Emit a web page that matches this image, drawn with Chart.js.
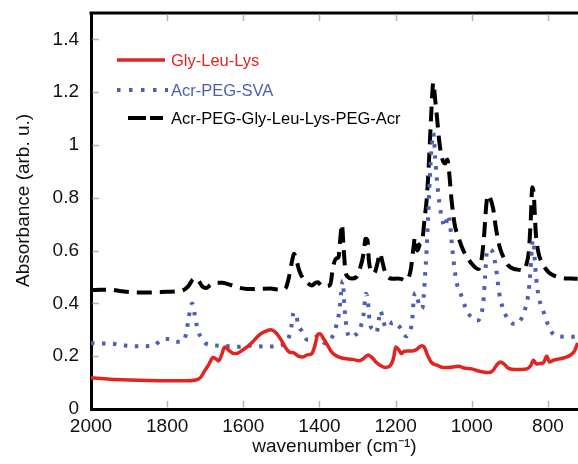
<!DOCTYPE html>
<html>
<head>
<meta charset="utf-8">
<script src="https://cdn.jsdelivr.net/npm/chart.js@4.4.1/dist/chart.umd.min.js"></script>
<style>
  html, body { margin: 0; padding: 0; background: #fff; }
  #wrap { width: 578px; height: 464px; }
</style>
</head>
<body>
<div id="wrap"><canvas id="c" width="578" height="464"></canvas></div>
<script>
// ---- axis ticks ----
const wavenumberTicks = [800, 1000, 1200, 1400, 1600, 1800, 2000];
const absorbanceTicks = [0, 0.2, 0.4, 0.6, 0.8, 1, 1.2, 1.4];

// ---- series labels ----
const seriesLabels = ['Gly-Leu-Lys', 'Acr-PEG-SVA', 'Acr-PEG-Gly-Leu-Lys-PEG-Acr'];

// ---- Gly-Leu-Lys ----
const glyWn  = [2000,1950,1900,1850,1800,1750,1725,1712,1700,1690,1680,1672,1665,1657,1649,1640,1628,1618,1605,1590,1575,1560,1545,1528,1515,1500,1490,1478,1468,1455,1445,1432,1420,1412,1404,1398,1390,1380,1370,1360,1345,1330,1310,1295,1285,1272,1262,1250,1240,1228,1215,1205,1200,1192,1185,1178,1168,1155,1145,1132,1125,1115,1105,1090,1075,1060,1045,1035,1020,1000,985,970,955,945,935,925,915,905,890,870,855,845,838,830,822,812,803,796,785,770,755,740,730,722];
const glyAbs = [0.118,0.113,0.110,0.108,0.107,0.107,0.110,0.120,0.148,0.170,0.195,0.190,0.182,0.205,0.235,0.225,0.212,0.210,0.220,0.235,0.255,0.278,0.292,0.300,0.290,0.260,0.235,0.215,0.213,0.200,0.197,0.205,0.210,0.240,0.283,0.285,0.268,0.245,0.220,0.205,0.195,0.190,0.187,0.183,0.190,0.205,0.195,0.175,0.165,0.157,0.163,0.195,0.235,0.225,0.210,0.218,0.220,0.220,0.225,0.240,0.235,0.200,0.175,0.165,0.157,0.157,0.160,0.162,0.155,0.152,0.145,0.140,0.138,0.145,0.165,0.178,0.170,0.155,0.150,0.150,0.152,0.165,0.185,0.170,0.172,0.175,0.200,0.178,0.185,0.190,0.195,0.205,0.220,0.250];

// ---- Acr-PEG-SVA ----
const svaWn  = [2000,1980,1950,1920,1893,1860,1835,1815,1795,1775,1762,1752,1745,1738,1734,1728,1720,1710,1700,1690,1665,1640,1610,1580,1550,1520,1495,1482,1474,1468,1462,1456,1446,1432,1418,1405,1392,1384,1372,1362,1355,1348,1343,1339,1334,1328,1320,1308,1298,1290,1284,1278,1273,1268,1260,1250,1244,1240,1234,1226,1218,1208,1200,1190,1180,1172,1164,1157,1152,1148,1143,1136,1130,1122,1117,1110,1105,1101,1096,1091,1085,1078,1070,1062,1057,1052,1046,1040,1030,1018,1008,995,986,978,970,965,960,953,944,936,928,918,907,895,886,875,862,852,846,841,838,834,828,820,812,800,787,770,750,722];
const svaAbs = [0.250,0.248,0.248,0.243,0.238,0.238,0.240,0.262,0.265,0.255,0.255,0.275,0.330,0.390,0.400,0.360,0.300,0.270,0.250,0.243,0.240,0.238,0.236,0.240,0.237,0.237,0.245,0.265,0.310,0.365,0.360,0.320,0.295,0.262,0.265,0.275,0.255,0.248,0.260,0.288,0.320,0.370,0.440,0.485,0.380,0.300,0.272,0.280,0.290,0.320,0.360,0.437,0.410,0.330,0.300,0.290,0.340,0.372,0.345,0.310,0.310,0.330,0.325,0.312,0.290,0.275,0.290,0.330,0.420,0.440,0.420,0.385,0.380,0.520,0.650,0.880,1.000,1.045,0.950,0.860,0.780,0.720,0.690,0.735,0.700,0.620,0.540,0.480,0.440,0.390,0.360,0.340,0.335,0.345,0.400,0.500,0.600,0.605,0.590,0.530,0.440,0.380,0.345,0.325,0.322,0.330,0.370,0.430,0.520,0.630,0.640,0.550,0.460,0.400,0.370,0.320,0.285,0.275,0.274,0.273];

// ---- Acr-PEG-Gly-Leu-Lys-PEG-Acr ----
const acrWn  = [2000,1975,1950,1920,1893,1860,1830,1800,1770,1752,1742,1733,1726,1718,1708,1698,1686,1672,1655,1638,1612,1590,1560,1530,1500,1488,1480,1472,1467,1460,1452,1444,1432,1420,1410,1404,1396,1385,1372,1364,1356,1350,1345,1341,1337,1332,1325,1315,1303,1292,1284,1279,1274,1270,1263,1256,1248,1241,1236,1228,1220,1208,1196,1186,1176,1168,1160,1154,1149,1143,1136,1130,1124,1118,1112,1106,1101,1096,1091,1085,1078,1070,1064,1059,1053,1045,1035,1022,1010,1000,990,983,975,968,962,958,952,944,936,926,915,905,891,875,865,856,850,845,841,837,832,826,818,808,796,780,760,740,722];
const acrAbs = [0.450,0.452,0.452,0.446,0.442,0.441,0.442,0.444,0.446,0.455,0.470,0.490,0.495,0.487,0.465,0.458,0.470,0.478,0.478,0.472,0.460,0.455,0.455,0.456,0.452,0.460,0.500,0.560,0.588,0.560,0.520,0.497,0.478,0.468,0.478,0.480,0.468,0.465,0.470,0.540,0.570,0.575,0.650,0.700,0.620,0.525,0.500,0.494,0.500,0.540,0.590,0.645,0.640,0.560,0.520,0.515,0.550,0.590,0.565,0.520,0.500,0.493,0.494,0.493,0.487,0.492,0.530,0.600,0.650,0.600,0.625,0.640,0.720,0.800,0.950,1.130,1.236,1.170,1.100,1.010,0.950,0.930,0.945,0.890,0.790,0.700,0.650,0.600,0.570,0.550,0.535,0.530,0.560,0.650,0.770,0.810,0.800,0.760,0.680,0.610,0.570,0.545,0.532,0.527,0.525,0.550,0.600,0.720,0.840,0.810,0.670,0.600,0.560,0.535,0.515,0.503,0.496,0.494,0.493];

const RED = '#e3231f', BLUE = '#4c5fb1', BLACK = '#000000';
const FONT = '"Liberation Sans", Arial, Helvetica, sans-serif';

function pts(xs, ys) { return xs.map((x, i) => ({ x: x, y: ys[i] })); }

const styles = [
  { color: RED,   width: 3.5, dash: [],         legendDash: [],         legendFrom: 117, legendTo: 165, y: 60 },
  { color: BLUE,  width: 4,   dash: [3.5, 7.5], legendDash: [3.5, 8.5], legendFrom: 117, legendTo: 168, y: 90 },
  { color: BLACK, width: 4,   dash: [15, 8],    legendDash: [18, 4],    legendFrom: 128, legendTo: 163, y: 118 }
];

const decor = {
  id: 'decor',
  afterDraw(chart) {
    const { ctx, chartArea, scales } = chart;
    const { left, right, top, bottom } = chartArea;
    ctx.save();
    // top frame line
    ctx.strokeStyle = '#000';
    ctx.lineWidth = 3;
    ctx.setLineDash([]);
    ctx.beginPath();
    ctx.moveTo(left - 1.5, top);
    ctx.lineTo(right + 2, top);
    ctx.stroke();
    // inward ticks
    ctx.strokeStyle = '#b4b4b4';
    ctx.lineWidth = 1.5;
    ctx.beginPath();
    absorbanceTicks.forEach(v => {
      if (v === 0) return;
      const py = Math.round(scales.y.getPixelForValue(v)) + 0.5;
      ctx.moveTo(left + 1.5, py); ctx.lineTo(left + 8, py);
    });
    wavenumberTicks.forEach(v => {
      if (v === 2000) return;
      const px = Math.round(scales.x.getPixelForValue(v)) + 0.5;
      ctx.moveTo(px, bottom - 1.5); ctx.lineTo(px, bottom - 8);
      ctx.moveTo(px, top + 1.5); ctx.lineTo(px, top + 8);
    });
    ctx.stroke();
    // legend
    ctx.font = '16.5px ' + FONT;
    ctx.textAlign = 'left';
    ctx.textBaseline = 'middle';
    chart.data.datasets.forEach((ds, i) => {
      const s = styles[i];
      ctx.strokeStyle = s.color;
      ctx.lineWidth = s.width;
      ctx.lineCap = 'butt';
      ctx.setLineDash(s.legendDash);
      ctx.beginPath();
      ctx.moveTo(s.legendFrom, s.y);
      ctx.lineTo(s.legendTo, s.y);
      ctx.stroke();
      ctx.setLineDash([]);
      ctx.fillStyle = s.color;
      ctx.fillText(ds.label, 171, s.y + 1.5);
    });
    ctx.restore();
  }
};

const datasets = [
  { label: seriesLabels[0], data: pts(glyWn, glyAbs) },
  { label: seriesLabels[1], data: pts(svaWn, svaAbs) },
  { label: seriesLabels[2], data: pts(acrWn, acrAbs) }
].map((d, i) => Object.assign(d, {
  borderColor: styles[i].color,
  borderWidth: styles[i].width,
  borderDash: styles[i].dash,
  borderCapStyle: 'butt',
  pointRadius: 0,
  fill: false,
  cubicInterpolationMode: 'monotone'
}));

new Chart(document.getElementById('c'), {
  type: 'line',
  data: { datasets: datasets },
  options: {
    responsive: false,
    animation: false,
    layout: { padding: { top: 13, right: 0, bottom: 0, left: 0 } },
    plugins: { legend: { display: false }, tooltip: { enabled: false } },
    scales: {
      x: {
        type: 'linear',
        reverse: true,
        min: 721,
        max: 2000,
        afterBuildTicks: s => { s.ticks = wavenumberTicks.map(v => ({ value: v })); },
        afterFit: s => { s.height = 55; s.paddingLeft = 0; s.paddingRight = 0; },
        grid: { display: false, drawTicks: false },
        border: { display: true, color: '#000', width: 3 },
        ticks: { color: '#111', font: { family: FONT, size: 19 }, padding: 6, maxRotation: 0, autoSkip: false,
                 callback: v => String(v) },
        title: { display: true, text: 'wavenumber (cm⁻¹)', color: '#111', font: { family: FONT, size: 19 }, padding: { top: 0, bottom: 5.5 } }
      },
      y: {
        type: 'linear',
        min: 0,
        max: 1.5,
        afterBuildTicks: s => { s.ticks = absorbanceTicks.map(v => ({ value: v })); },
        afterFit: s => { s.width = 91; s.paddingTop = 0; s.paddingBottom = 0; },
        grid: { display: false, drawTicks: false },
        border: { display: true, color: '#000', width: 3 },
        ticks: { color: '#111', font: { family: FONT, size: 19 }, padding: 12, autoSkip: false,
                 callback: v => String(Math.round(v * 10) / 10) },
        title: { display: true, text: '    Absorbance (arb. u.)', color: '#111', font: { family: FONT, size: 19 }, padding: { top: 12, bottom: 0 } }
      }
    }
  },
  plugins: [decor]
});
</script>
</body>
</html>
